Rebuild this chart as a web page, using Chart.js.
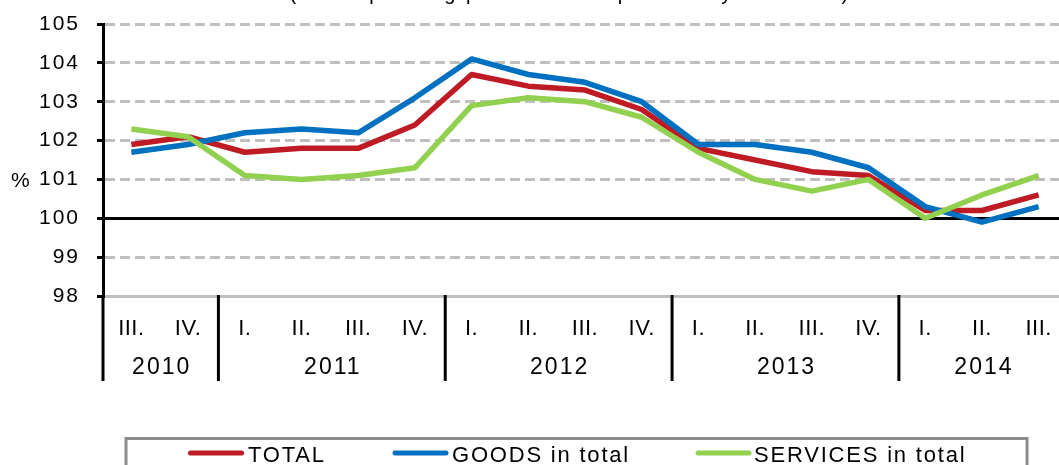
<!DOCTYPE html>
<html>
<head>
<meta charset="utf-8">
<style>
html,body{margin:0;padding:0;overflow:hidden;background:#fff;}
#wrap{width:1068px;height:465px;}
</style>
<script src="https://cdn.jsdelivr.net/npm/chart.js@4/dist/chart.umd.min.js"></script>
</head>
<body>
<div id="wrap"><canvas id="c" width="1068" height="465"></canvas></div>
<script>
const quarterLabels = ['III.','IV.','I.','II.','III.','IV.','I.','II.','III.','IV.','I.','II.','III.','IV.','I.','II.','III.'];
const yearLabels = ['2010','2011','2012','2013','2014'];
const yearCounts = [2, 4, 4, 4, 3];
const total    = [101.9, 102.1, 101.7, 101.8, 101.8, 102.4, 103.7, 103.4, 103.3, 102.8, 101.8, 101.5, 101.2, 101.1, 100.2, 100.2, 100.6];
const goods    = [101.7, 101.9, 102.2, 102.3, 102.2, 103.1, 104.1, 103.7, 103.5, 103.0, 101.9, 101.9, 101.7, 101.3, 100.3, 99.9, 100.3];
const services = [102.3, 102.1, 101.1, 101.0, 101.1, 101.3, 102.9, 103.1, 103.0, 102.6, 101.7, 101.0, 100.7, 101.0, 100.0, 100.6, 101.1];
const seriesNames = ['TOTAL', 'GOODS in total', 'SERVICES in total'];
const yMin = 98, yMax = 105, yStep = 1, baseValue = 100;
const titleText = '(corresponding period of the previous year = 100)';
const unitLabel = '%';

const FONT = "'Liberation Sans', Arial, sans-serif";
const COLORS = ['#be1b24', '#0070c0', '#92d050'];

const deco = {
  id: 'deco',
  beforeDraw(chart) {
    chart.ctx.letterSpacing = '2px';
  },
  afterDatasetsDraw(chart) {
    chart.ctx.letterSpacing = '0.5px';
  },
  afterDraw(chart) {
    const ctx = chart.ctx;
    const ca = chart.chartArea;
    const x = chart.scales.x;
    const y = chart.scales.y;
    const n = quarterLabels.length;
    ctx.save();
    ctx.fillStyle = '#000';
    // partially visible title (cut off at the top edge)
    ctx.letterSpacing = '2.5px';
    ctx.font = '20px ' + FONT;
    ctx.textAlign = 'center';
    ctx.textBaseline = 'alphabetic';
    ctx.fillText(titleText, 570, 0);
    // unit label
    ctx.letterSpacing = '0px';
    ctx.font = '21px ' + FONT;
    ctx.textAlign = 'left';
    ctx.textBaseline = 'middle';
    ctx.fillText(unitLabel, 11, y.getPixelForValue(101) + 2);
    // year separators and labels
    ctx.strokeStyle = '#000';
    ctx.lineWidth = 3;
    const lowY = 381;
    let s = 0;
    yearLabels.forEach((yl, k) => {
      const e = s + yearCounts[k] - 1;
      const left = s === 0 ? ca.left : (x.getPixelForValue(s - 1) + x.getPixelForValue(s)) / 2 + 2;
      const right = e === n - 1 ? ca.right : (x.getPixelForValue(e) + x.getPixelForValue(e + 1)) / 2 + 2;
      ctx.beginPath();
      ctx.moveTo(left, ca.bottom - 1);
      ctx.lineTo(left, lowY);
      ctx.stroke();
      ctx.letterSpacing = '2px';
      ctx.font = '23px ' + FONT;
      ctx.textAlign = 'center';
      ctx.textBaseline = 'middle';
      ctx.fillText(yl, (left + right) / 2 + 1, 368);
      s = e + 1;
    });
    // legend box
    ctx.strokeStyle = '#8c8c8c';
    ctx.lineWidth = 3;
    ctx.strokeRect(126, 438.5, 901, 40);
    const lineX = [190.5, 395, 698];
    const textX = [248, 452, 754];
    ctx.lineCap = 'round';
    ctx.font = '22px ' + FONT;
    ctx.letterSpacing = '1.8px';
    ctx.textAlign = 'left';
    ctx.textBaseline = 'alphabetic';
    chart.data.datasets.forEach((ds, i) => {
      ctx.strokeStyle = ds.borderColor;
      ctx.lineWidth = 5;
      ctx.beginPath();
      ctx.moveTo(lineX[i], 453);
      ctx.lineTo(lineX[i] + 51, 453);
      ctx.stroke();
      ctx.fillStyle = '#000';
      ctx.fillText(ds.label, textX[i], 461.5);
    });
    ctx.restore();
  }
};

const mk = (data, i, order) => ({
  label: seriesNames[i],
  data: data,
  borderColor: COLORS[i],
  backgroundColor: COLORS[i],
  borderWidth: 5.5,
  pointRadius: 0,
  pointHoverRadius: 0,
  tension: 0,
  fill: false,
  borderJoinStyle: 'round',
  order: order
});

new Chart(document.getElementById('c'), {
  type: 'line',
  data: {
    labels: quarterLabels,
    datasets: [mk(total, 0, 2), mk(goods, 1, 1), mk(services, 2, 0)]
  },
  options: {
    responsive: false,
    animation: false,
    events: [],
    layout: { padding: { top: 24, right: 1, left: 0, bottom: 0 } },
    plugins: { legend: { display: false }, title: { display: false }, tooltip: { enabled: false } },
    scales: {
      x: {
        type: 'category',
        offset: true,
        grid: { display: true, color: 'rgba(0,0,0,0)', drawTicks: false, lineWidth: 0 },
        border: { display: true, color: '#bfbfbf', width: 3 },
        ticks: { font: { family: FONT, size: 22 }, color: '#000', padding: 20, autoSkip: false, maxRotation: 0, z: 1 },
        afterFit(scale) { scale.height = 465 - 296; scale.paddingLeft = 0; scale.paddingRight = 0; }
      },
      y: {
        min: yMin,
        max: yMax,
        ticks: {
          stepSize: yStep,
          font: { family: FONT, size: 21 },
          color: '#000',
          padding: 17,
          callback: v => String(v)
        },
        grid: {
          color: c => (c.tick && c.tick.value === baseValue) ? '#000' : '#bfbfbf',
          lineWidth: 3,
          tickColor: '#000',
          tickLength: 6,
          tickWidth: 3,
          tickBorderDash: []
        },
        border: {
          display: true,
          color: '#000',
          width: 3,
          dash: c => (c.tick && c.tick.value === baseValue) ? [] : [10, 5]
        },
        afterFit(scale) { scale.width = 103; scale.paddingTop = 0; scale.paddingBottom = 0; }
      }
    }
  },
  plugins: [deco]
});
</script>
</body>
</html>
